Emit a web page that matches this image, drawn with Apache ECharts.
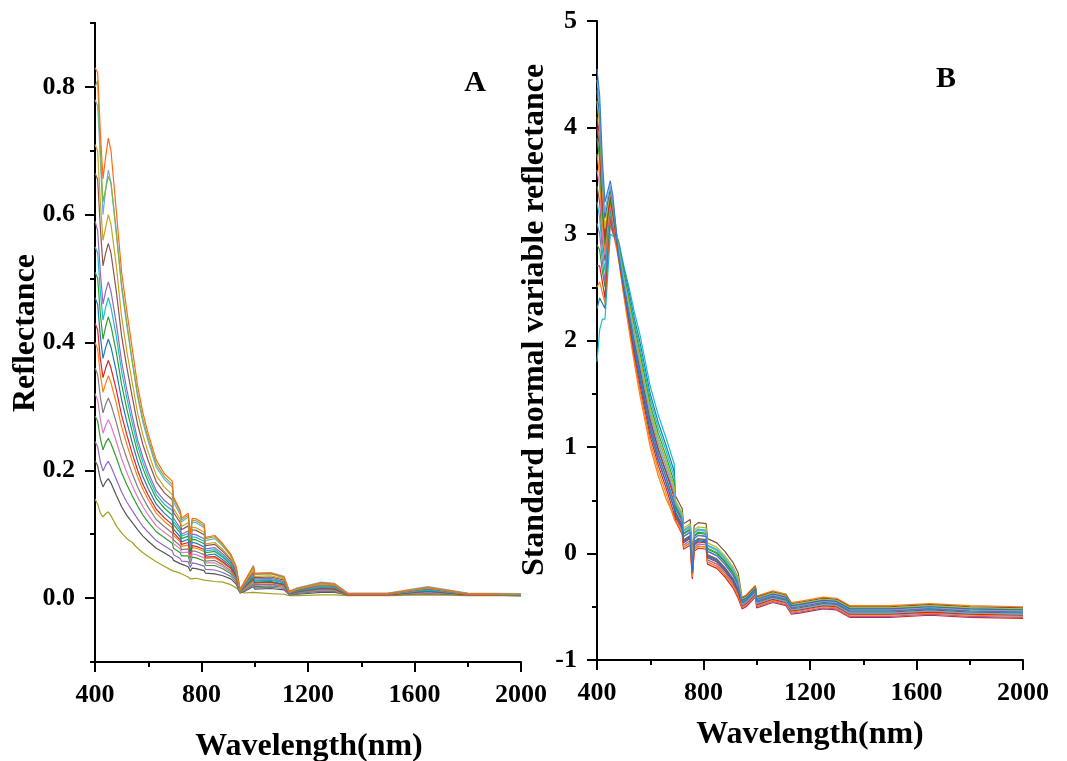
<!DOCTYPE html>
<html>
<head>
  <meta charset="utf-8" />
  <title>Reflectance spectra</title>
  <script src="https://cdn.jsdelivr.net/npm/echarts@6/dist/echarts.min.js"></script>
  <style>
    html, body { margin: 0; padding: 0; background: #fff; }
    #chart { width: 1067px; height: 761px; }
  </style>
</head>
<body>
  <div id="chart"></div>
  <script>
    // wavelengths (nm) shared by every spectrum
    var wavelengths = [400, 410, 420, 430, 440, 450, 460, 480, 500, 520, 540, 560, 580, 600, 630, 660, 690, 695, 720, 725,
      750, 758, 765, 780, 810, 815, 850, 880, 910, 930, 945, 960, 995, 1000, 1060, 1110, 1130, 1160, 1250, 1300,
      1350, 1500, 1650, 1800, 2000];

    var xTicks = [400, 800, 1200, 1600, 2000];
    var yTicksA = [0, 0.2, 0.4, 0.6, 0.8];
    var yMinorA = [-0.1, 0.1, 0.3, 0.5, 0.7, 0.9];

    // panel A : raw reflectance
    var a01 = [0.83,0.822,0.73,0.656,0.69,0.72,0.70,0.606,0.51,0.448,0.39,0.332,0.29,0.257,0.216,0.195,0.183,0.158,0.137,0.125,0.133,0.10,0.125,0.124,0.116,0.095,0.098,0.085,0.069,0.05,0.013,0.025,0.05,0.038,0.039,0.033,0.01,0.015,0.024,0.022,0.007,0.007,0.017,0.007,0.006];
    var a02 = [0.80,0.81,0.70,0.62,0.64,0.66,0.65,0.57,0.49,0.43,0.37,0.32,0.28,0.25,0.21,0.19,0.178,0.155,0.135,0.122,0.13,0.098,0.122,0.121,0.113,0.093,0.096,0.083,0.067,0.048,0.013,0.024,0.048,0.037,0.038,0.032,0.01,0.014,0.023,0.021,0.007,0.007,0.016,0.007,0.006];
    var a03 = [0.78,0.77,0.69,0.60,0.64,0.67,0.65,0.575,0.485,0.425,0.37,0.315,0.275,0.245,0.205,0.186,0.174,0.15,0.131,0.119,0.127,0.095,0.119,0.118,0.11,0.09,0.093,0.081,0.066,0.047,0.013,0.024,0.051,0.039,0.04,0.034,0.011,0.016,0.025,0.023,0.008,0.008,0.018,0.008,0.007];
    var a04 = [0.71,0.70,0.62,0.56,0.58,0.60,0.585,0.52,0.44,0.385,0.337,0.29,0.255,0.228,0.192,0.174,0.162,0.14,0.123,0.112,0.118,0.09,0.111,0.11,0.103,0.085,0.087,0.076,0.062,0.045,0.012,0.022,0.044,0.034,0.035,0.03,0.009,0.014,0.022,0.02,0.007,0.007,0.016,0.007,0.006];
    var a05 = [0.665,0.655,0.58,0.52,0.54,0.555,0.54,0.48,0.41,0.36,0.315,0.272,0.24,0.215,0.182,0.165,0.154,0.134,0.118,0.107,0.113,0.087,0.107,0.106,0.099,0.082,0.084,0.073,0.06,0.043,0.012,0.021,0.041,0.032,0.033,0.028,0.009,0.013,0.021,0.019,0.007,0.007,0.015,0.007,0.006];
    var a06 = [0.59,0.575,0.51,0.46,0.48,0.495,0.48,0.43,0.37,0.325,0.285,0.248,0.22,0.197,0.168,0.153,0.143,0.125,0.11,0.1,0.105,0.082,0.1,0.099,0.093,0.077,0.079,0.069,0.057,0.041,0.011,0.02,0.038,0.03,0.031,0.026,0.008,0.012,0.019,0.018,0.006,0.006,0.014,0.006,0.006];
    var a07 = [0.55,0.54,0.48,0.435,0.455,0.47,0.455,0.41,0.355,0.312,0.274,0.239,0.212,0.19,0.162,0.147,0.137,0.12,0.106,0.097,0.101,0.079,0.096,0.095,0.089,0.074,0.076,0.066,0.055,0.04,0.011,0.019,0.036,0.028,0.029,0.025,0.008,0.012,0.018,0.017,0.006,0.006,0.013,0.006,0.005];
    var a08 = [0.51,0.50,0.445,0.405,0.425,0.44,0.426,0.385,0.334,0.295,0.26,0.228,0.203,0.182,0.156,0.141,0.13,0.115,0.102,0.093,0.097,0.076,0.092,0.091,0.085,0.071,0.073,0.064,0.053,0.038,0.01,0.018,0.034,0.027,0.028,0.024,0.008,0.011,0.017,0.016,0.006,0.006,0.012,0.006,0.005];
    var a09 = [0.47,0.46,0.41,0.375,0.392,0.405,0.393,0.355,0.31,0.275,0.243,0.214,0.19,0.171,0.147,0.133,0.122,0.108,0.096,0.088,0.092,0.072,0.087,0.086,0.08,0.067,0.069,0.06,0.05,0.036,0.01,0.017,0.032,0.025,0.026,0.022,0.007,0.01,0.016,0.015,0.006,0.006,0.011,0.006,0.005];
    var a10 = [0.43,0.42,0.375,0.345,0.36,0.372,0.36,0.326,0.286,0.255,0.226,0.2,0.178,0.161,0.139,0.126,0.115,0.102,0.091,0.084,0.087,0.069,0.082,0.081,0.076,0.064,0.065,0.057,0.047,0.034,0.01,0.016,0.03,0.024,0.025,0.021,0.007,0.01,0.015,0.014,0.005,0.005,0.011,0.005,0.005];
    var a11 = [0.40,0.39,0.35,0.322,0.336,0.348,0.337,0.305,0.268,0.24,0.214,0.19,0.17,0.154,0.133,0.12,0.11,0.098,0.088,0.081,0.083,0.066,0.079,0.078,0.073,0.062,0.063,0.055,0.046,0.033,0.009,0.015,0.029,0.023,0.024,0.02,0.007,0.01,0.015,0.014,0.005,0.005,0.011,0.005,0.005];
    var a12 = [0.36,0.35,0.315,0.29,0.303,0.313,0.303,0.275,0.243,0.218,0.195,0.174,0.157,0.142,0.123,0.112,0.102,0.091,0.082,0.076,0.077,0.062,0.074,0.073,0.068,0.058,0.059,0.052,0.043,0.031,0.009,0.014,0.027,0.021,0.022,0.019,0.006,0.009,0.014,0.013,0.005,0.005,0.01,0.005,0.005];
    var a13 = [0.32,0.31,0.28,0.258,0.27,0.279,0.27,0.245,0.218,0.196,0.176,0.158,0.143,0.13,0.113,0.103,0.094,0.085,0.077,0.071,0.072,0.058,0.069,0.068,0.063,0.055,0.055,0.049,0.041,0.03,0.009,0.013,0.025,0.02,0.021,0.018,0.006,0.009,0.013,0.012,0.005,0.005,0.009,0.005,0.005];
    var a14 = [0.285,0.277,0.25,0.232,0.243,0.25,0.242,0.22,0.196,0.177,0.16,0.144,0.13,0.119,0.104,0.095,0.086,0.078,0.071,0.066,0.066,0.054,0.064,0.063,0.058,0.051,0.051,0.046,0.038,0.028,0.008,0.012,0.023,0.018,0.019,0.017,0.006,0.008,0.012,0.011,0.005,0.005,0.009,0.005,0.004];
    var a15 = [0.245,0.237,0.213,0.199,0.208,0.214,0.206,0.186,0.166,0.15,0.137,0.124,0.112,0.103,0.09,0.082,0.074,0.068,0.062,0.058,0.057,0.048,0.055,0.054,0.05,0.045,0.044,0.04,0.034,0.025,0.008,0.011,0.02,0.016,0.017,0.015,0.005,0.007,0.011,0.01,0.005,0.005,0.008,0.005,0.004];
    var a16 = [0.215,0.207,0.186,0.174,0.182,0.187,0.18,0.161,0.143,0.129,0.118,0.107,0.097,0.089,0.078,0.071,0.063,0.059,0.054,0.051,0.049,0.042,0.047,0.046,0.043,0.039,0.038,0.035,0.03,0.022,0.008,0.01,0.018,0.014,0.015,0.013,0.005,0.006,0.009,0.009,0.005,0.005,0.007,0.005,0.004];
    var a17 = [0.155,0.147,0.133,0.127,0.132,0.135,0.129,0.113,0.102,0.093,0.087,0.078,0.071,0.065,0.057,0.05,0.043,0.042,0.039,0.037,0.033,0.03,0.032,0.031,0.028,0.027,0.026,0.025,0.021,0.016,0.01,0.008,0.009,0.007,0.007,0.006,0.004,0.004,0.005,0.005,0.004,0.004,0.005,0.004,0.004];

    // panel B : standard normal variate
    var b01 = [4.55,4.3,3.7,3.3,3.4,3.5,3.35,2.83,2.52,2.25,1.96,1.7,1.45,1.2,0.93,0.71,0.47,0.42,0.3,0.16,0.2,-0.12,0.14,0.17,0.16,0.02,-0.02,-0.1,-0.2,-0.3,-0.46,-0.44,-0.35,-0.45,-0.4,-0.43,-0.51,-0.5,-0.46,-0.47,-0.54,-0.54,-0.52,-0.54,-0.55];
    var b02 = [4.45,4.2,3.6,3.2,3.35,3.45,3.3,2.87,2.58,2.31,2.04,1.8,1.55,1.3,1.03,0.81,0.57,0.47,0.35,0.21,0.25,-0.07,0.19,0.22,0.21,0.07,0.03,-0.05,-0.15,-0.25,-0.48,-0.46,-0.37,-0.47,-0.42,-0.45,-0.53,-0.52,-0.48,-0.49,-0.56,-0.56,-0.54,-0.56,-0.57];
    var b03 = [4.35,4.1,3.55,3.15,3.3,3.42,3.28,2.82,2.5,2.21,1.92,1.65,1.4,1.15,0.88,0.66,0.42,0.37,0.25,0.11,0.15,-0.17,0.09,0.12,0.11,-0.03,-0.07,-0.15,-0.25,-0.35,-0.44,-0.42,-0.33,-0.43,-0.38,-0.41,-0.49,-0.48,-0.44,-0.45,-0.52,-0.52,-0.5,-0.52,-0.53];
    var b04 = [4.25,4.0,3.45,3.05,3.25,3.4,3.25,2.88,2.6,2.35,2.09,1.85,1.6,1.35,1.08,0.86,0.62,0.5,0.38,0.24,0.28,-0.04,0.22,0.25,0.24,0.1,0.06,-0.02,-0.12,-0.22,-0.43,-0.41,-0.32,-0.42,-0.37,-0.4,-0.48,-0.47,-0.43,-0.44,-0.51,-0.51,-0.49,-0.51,-0.52];
    var b05 = [4.1,3.9,3.35,3.0,3.2,3.38,3.22,2.8,2.48,2.18,1.87,1.6,1.35,1.1,0.83,0.61,0.37,0.36,0.24,0.1,0.14,-0.18,0.08,0.11,0.1,-0.04,-0.08,-0.16,-0.26,-0.36,-0.49,-0.47,-0.38,-0.48,-0.43,-0.46,-0.54,-0.53,-0.49,-0.5,-0.57,-0.57,-0.55,-0.57,-0.58];
    var b06 = [4.0,3.8,3.3,2.95,3.18,3.35,3.2,2.85,2.55,2.28,2.0,1.75,1.5,1.25,0.98,0.76,0.56,0.54,0.42,0.28,0.32,0.0,0.26,0.29,0.28,0.14,0.1,0.02,-0.08,-0.18,-0.42,-0.4,-0.31,-0.41,-0.36,-0.39,-0.47,-0.46,-0.42,-0.43,-0.5,-0.5,-0.48,-0.5,-0.51];
    var b07 = [3.9,3.7,3.2,2.9,3.15,3.32,3.18,2.9,2.63,2.39,2.13,1.9,1.65,1.4,1.13,0.91,0.67,0.44,0.32,0.18,0.22,-0.1,0.16,0.19,0.18,0.04,0.0,-0.08,-0.18,-0.28,-0.46,-0.44,-0.35,-0.45,-0.4,-0.43,-0.51,-0.5,-0.46,-0.47,-0.54,-0.54,-0.52,-0.54,-0.55];
    var b08 = [3.75,3.55,3.1,2.85,3.1,3.3,3.15,2.79,2.45,2.14,1.83,1.55,1.3,1.05,0.78,0.56,0.32,0.3,0.2,0.06,0.1,-0.22,0.04,0.07,0.06,-0.08,-0.12,-0.2,-0.3,-0.4,-0.5,-0.48,-0.39,-0.49,-0.44,-0.47,-0.55,-0.54,-0.5,-0.51,-0.58,-0.58,-0.56,-0.58,-0.59];
    var b09 = [3.6,3.45,3.0,2.8,3.08,3.28,3.12,2.87,2.58,2.31,2.04,1.8,1.55,1.3,1.03,0.81,0.57,0.42,0.3,0.16,0.2,-0.12,0.14,0.17,0.16,0.02,-0.02,-0.1,-0.2,-0.3,-0.45,-0.43,-0.34,-0.44,-0.39,-0.42,-0.5,-0.49,-0.45,-0.46,-0.53,-0.53,-0.51,-0.53,-0.54];
    var b10 = [3.45,3.3,2.95,2.75,3.05,3.25,3.1,2.83,2.52,2.25,1.96,1.7,1.45,1.2,0.93,0.71,0.47,0.39,0.27,0.13,0.17,-0.15,0.11,0.14,0.13,-0.01,-0.05,-0.13,-0.23,-0.33,-0.47,-0.45,-0.36,-0.46,-0.41,-0.44,-0.52,-0.51,-0.47,-0.48,-0.55,-0.55,-0.53,-0.55,-0.56];
    var b11 = [3.3,3.15,2.85,2.65,3.0,3.22,3.08,2.91,2.65,2.42,2.17,1.95,1.7,1.45,1.18,0.96,0.72,0.47,0.35,0.21,0.25,-0.07,0.19,0.22,0.21,0.07,0.03,-0.05,-0.15,-0.25,-0.44,-0.42,-0.33,-0.43,-0.38,-0.41,-0.49,-0.48,-0.44,-0.45,-0.52,-0.52,-0.5,-0.52,-0.53];
    var b12 = [3.1,3.0,2.75,2.55,2.95,3.2,3.06,2.82,2.5,2.21,1.92,1.65,1.4,1.15,0.88,0.66,0.42,0.34,0.22,0.08,0.12,-0.2,0.06,0.09,0.08,-0.06,-0.1,-0.18,-0.28,-0.38,-0.51,-0.49,-0.4,-0.5,-0.45,-0.48,-0.56,-0.55,-0.51,-0.52,-0.59,-0.59,-0.57,-0.59,-0.6];
    var b13 = [2.9,2.85,2.65,2.5,2.9,3.18,3.05,2.88,2.6,2.35,2.09,1.85,1.6,1.35,1.08,0.86,0.62,0.45,0.33,0.19,0.23,-0.09,0.17,0.2,0.19,0.05,0.01,-0.07,-0.17,-0.27,-0.43,-0.41,-0.32,-0.42,-0.37,-0.4,-0.48,-0.47,-0.43,-0.44,-0.51,-0.51,-0.49,-0.51,-0.52];
    var b14 = [2.7,2.7,2.55,2.4,2.85,3.15,3.03,2.85,2.55,2.28,2.0,1.75,1.5,1.25,0.98,0.76,0.52,0.3,0.18,0.04,0.08,-0.24,0.02,0.05,0.04,-0.1,-0.14,-0.22,-0.32,-0.42,-0.52,-0.5,-0.41,-0.51,-0.46,-0.49,-0.57,-0.56,-0.52,-0.53,-0.6,-0.6,-0.58,-0.6,-0.61];
    var b15 = [2.5,2.55,2.45,2.35,2.8,3.12,3.02,2.78,2.43,2.1,1.79,1.5,1.25,1.0,0.73,0.51,0.35,0.32,0.2,0.06,0.1,-0.22,0.04,0.07,0.06,-0.08,-0.12,-0.2,-0.3,-0.4,-0.41,-0.39,-0.3,-0.4,-0.35,-0.38,-0.46,-0.45,-0.41,-0.42,-0.49,-0.49,-0.47,-0.49,-0.5];
    var b16 = [2.3,2.4,2.35,2.3,2.75,3.1,3.0,2.93,2.68,2.46,2.21,2.0,1.75,1.5,1.23,1.01,0.77,0.38,0.26,0.12,0.16,-0.16,0.1,0.13,0.12,-0.02,-0.06,-0.14,-0.24,-0.34,-0.48,-0.46,-0.37,-0.47,-0.42,-0.45,-0.53,-0.52,-0.48,-0.49,-0.56,-0.56,-0.54,-0.56,-0.57];
    var b17 = [1.8,2.1,2.2,2.2,2.6,3.0,2.98,2.95,2.71,2.5,2.27,2.07,1.82,1.57,1.3,1.08,0.84,0.48,0.36,0.22,0.26,-0.06,0.2,0.23,0.22,0.08,0.04,-0.04,-0.14,-0.24,-0.49,-0.47,-0.38,-0.48,-0.43,-0.46,-0.54,-0.53,-0.49,-0.5,-0.57,-0.57,-0.55,-0.57,-0.58];

    var spectraA = [a17, a16, a15, a14, a13, a12, a11, a10, a09, a08, a07, a06, a05, a04, a03, a02, a01];
    var spectraB = [b17, b16, b15, b14, b13, b12, b11, b10, b09, b08, b07, b06, b05, b04, b03, b02, b01];

    var colors = ['#a5a020', '#555555', '#9467bd', '#2ca02c', '#e377c2', '#7f7f7f', '#ff7f0e', '#d62728', '#1f77b4',
      '#2ca02c', '#17becf', '#9467bd', '#8c564b', '#c9a227', '#6baed6', '#7cb342', '#ff6a13'];
    var colorsB = ['#17becf', '#1f77b4', '#ff7f0e', '#d62728', '#2ca02c', '#9467bd', '#17becf', '#8c564b', '#e377c2',
      '#ff7f0e', '#2ca02c', '#7f4f3f', '#d62728', '#bcbd22', '#1f77b4', '#6baed6', '#3a7bd5'];

    var font = '"Liberation Serif", "Times New Roman", serif';

    var series = [];
    spectraA.forEach(function (s, k) {
      series.push({
        type: 'line', xAxisIndex: 0, yAxisIndex: 0, symbol: 'none', silent: true,
        lineStyle: { width: 1.2, color: colors[k] },
        data: wavelengths.map(function (w, i) { return [w, s[i]]; })
      });
    });
    spectraB.forEach(function (s, k) {
      series.push({
        type: 'line', xAxisIndex: 1, yAxisIndex: 2, symbol: 'none', silent: true,
        lineStyle: { width: 1.2, color: colorsB[k] },
        data: wavelengths.map(function (w, i) { return [w, s[i]]; })
      });
    });

    var axisLine = { show: true, onZero: false, lineStyle: { color: '#000', width: 2 } };
    var labelStyle = { color: '#000', fontFamily: font, fontWeight: 'bold', fontSize: 26 };

    function xAxis(grid) {
      return {
        type: 'value', gridIndex: grid, min: 400, max: 2000, interval: 400,
        axisLine: axisLine,
        axisTick: { show: true, length: 10, lineStyle: { color: '#000', width: 2 } },
        minorTick: { show: true, splitNumber: 2, length: 5, lineStyle: { color: '#000', width: 2 } },
        axisLabel: Object.assign({ margin: 20, formatter: function (v) { return String(v); } }, labelStyle),
        splitLine: { show: false }
      };
    }

    var chart = echarts.init(document.getElementById('chart'), null, { renderer: 'canvas' });
    chart.setOption({
      animation: false,
      backgroundColor: '#fff',
      grid: [
        { left: 95, top: 23, width: 426, height: 639 },
        { left: 597, top: 21, width: 426, height: 639 }
      ],
      xAxis: [xAxis(0), xAxis(1)],
      yAxis: [
        {
          type: 'value', gridIndex: 0, min: -0.1, max: 0.9,
          axisLine: axisLine,
          axisTick: { show: true, length: 10, customValues: yTicksA, lineStyle: { color: '#000', width: 2 } },
          axisLabel: Object.assign({ margin: 20, customValues: yTicksA, formatter: function (v) { return v.toFixed(1); } }, labelStyle),
          splitLine: { show: false }
        },
        {
          type: 'value', gridIndex: 0, min: -0.1, max: 0.9, position: 'left',
          axisLine: axisLine,
          axisTick: { show: true, length: 5, customValues: yMinorA, lineStyle: { color: '#000', width: 2 } },
          axisLabel: { show: false },
          splitLine: { show: false }
        },
        {
          type: 'value', gridIndex: 1, min: -1, max: 5, interval: 1,
          axisLine: axisLine,
          axisTick: { show: true, length: 10, lineStyle: { color: '#000', width: 2 } },
          minorTick: { show: true, splitNumber: 2, length: 5, lineStyle: { color: '#000', width: 2 } },
          axisLabel: Object.assign({ margin: 20 }, labelStyle),
          splitLine: { show: false }
        }
      ],
      graphic: [
        { type: 'text', x: 309, y: 747, style: { text: 'Wavelength(nm)', font: 'bold 32px ' + font, fill: '#000', textAlign: 'center', textVerticalAlign: 'middle' } },
        { type: 'text', x: 810, y: 735, style: { text: 'Wavelength(nm)', font: 'bold 32px ' + font, fill: '#000', textAlign: 'center', textVerticalAlign: 'middle' } },
        { type: 'text', x: 26, y: 333, rotation: Math.PI / 2, style: { text: 'Reflectance', font: 'bold 32px ' + font, fill: '#000', textAlign: 'center', textVerticalAlign: 'middle' } },
        { type: 'text', x: 535, y: 320, rotation: Math.PI / 2, style: { text: 'Standard normal variable reflectance', font: 'bold 32px ' + font, fill: '#000', textAlign: 'center', textVerticalAlign: 'middle' } },
        { type: 'text', x: 475, y: 83, style: { text: 'A', font: 'bold 30px ' + font, fill: '#000', textAlign: 'center', textVerticalAlign: 'middle' } },
        { type: 'text', x: 946, y: 79, style: { text: 'B', font: 'bold 30px ' + font, fill: '#000', textAlign: 'center', textVerticalAlign: 'middle' } }
      ],
      series: series
    });
  </script>
</body>
</html>
